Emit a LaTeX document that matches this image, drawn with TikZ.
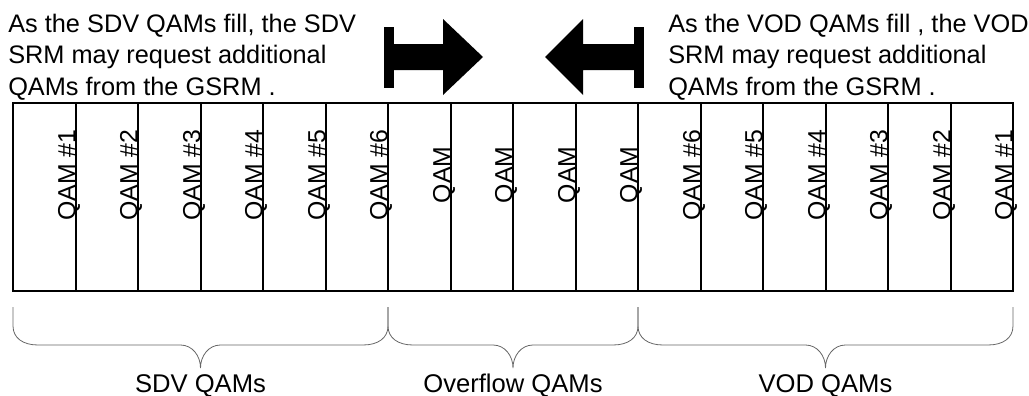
\documentclass[tikz,border=0pt]{standalone}
\usepackage{fontspec}
\setmainfont{Liberation Sans}
\begin{document}
\begin{tikzpicture}[x=0.75pt,y=-0.75pt,
  cell/.style={draw=black,line width=0.9pt,minimum height=141pt,inner sep=0pt,outer sep=0pt},
  qamlbl/.style={rotate=90,anchor=base,inner sep=0pt,font=\fontsize{18.6}{22}\selectfont},
  note/.style={anchor=base west,inner sep=0pt,font=\fontsize{19}{23}\selectfont},
  caption/.style={anchor=base,inner sep=0pt,font=\fontsize{19.2}{23}\selectfont},
  bracepath/.style={draw=black!60,line width=0.6pt},
  block/.style={fill=black,draw=none}]
\useasboundingbox (0,0) rectangle (1029,396);

% row of sixteen QAM cells, left and right edges in picture units
\foreach \i/\xa/\xb in {1/13/76,2/76/138,3/138/201,4/201/263,5/263/326,6/326/388,
                        7/388/451,8/451/513,9/513/576,10/576/638,
                        11/638/701,12/701/763,13/763/826,14/826/888,15/888/951,16/951/1013} {
  \pgfmathsetmacro\cw{0.75*(\xb-\xa)}
  \node[cell,minimum width=\cw pt] (c\i) at ({(\xa+\xb)/2},197) {};
}

% rotated cell labels, baseline on the right edge of each cell
\foreach \i/\t in {1/QAM \#1,2/QAM \#2,3/QAM \#3,4/QAM \#4,5/QAM \#5,6/QAM \#6,
                   7/QAM,8/QAM,9/QAM,10/QAM,
                   11/QAM \#6,12/QAM \#5,13/QAM \#4,14/QAM \#3,15/QAM \#2,16/QAM \#1}
  \node[qamlbl] (l\i) at ([xshift=-0.4pt]c\i.east |- 0,175) {\t};

% notes above the row
\node[note] (sdva) at (8,32) {As the SDV QAMs fill, the SDV};
\node[note] (sdvb) at (8,63.5) {SRM may request additional};
\node[note] (sdvc) at (8,95) {QAMs from the GSRM .};
\node[note] (voda) at (668,32) {As the VOD QAMs fill , the VOD};
\node[note] (vodb) at (668,63.5) {SRM may request additional};
\node[note] (vodc) at (668,95) {QAMs from the GSRM .};

% block arrows pointing toward the overflow pool
\fill[block] (384,27) rectangle (394,88);
\fill[block] (394,44) -- (443,44) -- (443,19) -- (483,57) -- (443,95) -- (443,70) -- (394,70) -- cycle;
\fill[block] (634,27) rectangle (644,88);
\fill[block] (634,44) -- (583,44) -- (583,19) -- (545,57) -- (583,95) -- (583,70) -- (634,70) -- cycle;

% braces under the three groups
\foreach \xa/\xb in {13/388,388/638,638/1013} {
  \pgfmathsetmacro\xm{(\xa+\xb)/2}
  \draw[bracepath] (\xa,307) -- (\xa,326)
    .. controls (\xa,338) and ({\xa+10},345) .. ({\xa+25},345)
    -- ({\xm-20},345)
    .. controls ({\xm-8},345) and (\xm,356) .. (\xm,368)
    .. controls (\xm,356) and ({\xm+8},345) .. ({\xm+20},345)
    -- ({\xb-25},345)
    .. controls ({\xb-10},345) and (\xb,338) .. (\xb,326)
    -- (\xb,307);
}

% group captions
\node[caption] (sdvq) at (200.5,392) {SDV QAMs};
\node[caption] (ovfq) at (513,392) {Overflow QAMs};
\node[caption] (vodq) at (825.5,392) {VOD QAMs};
\end{tikzpicture}
\end{document}
